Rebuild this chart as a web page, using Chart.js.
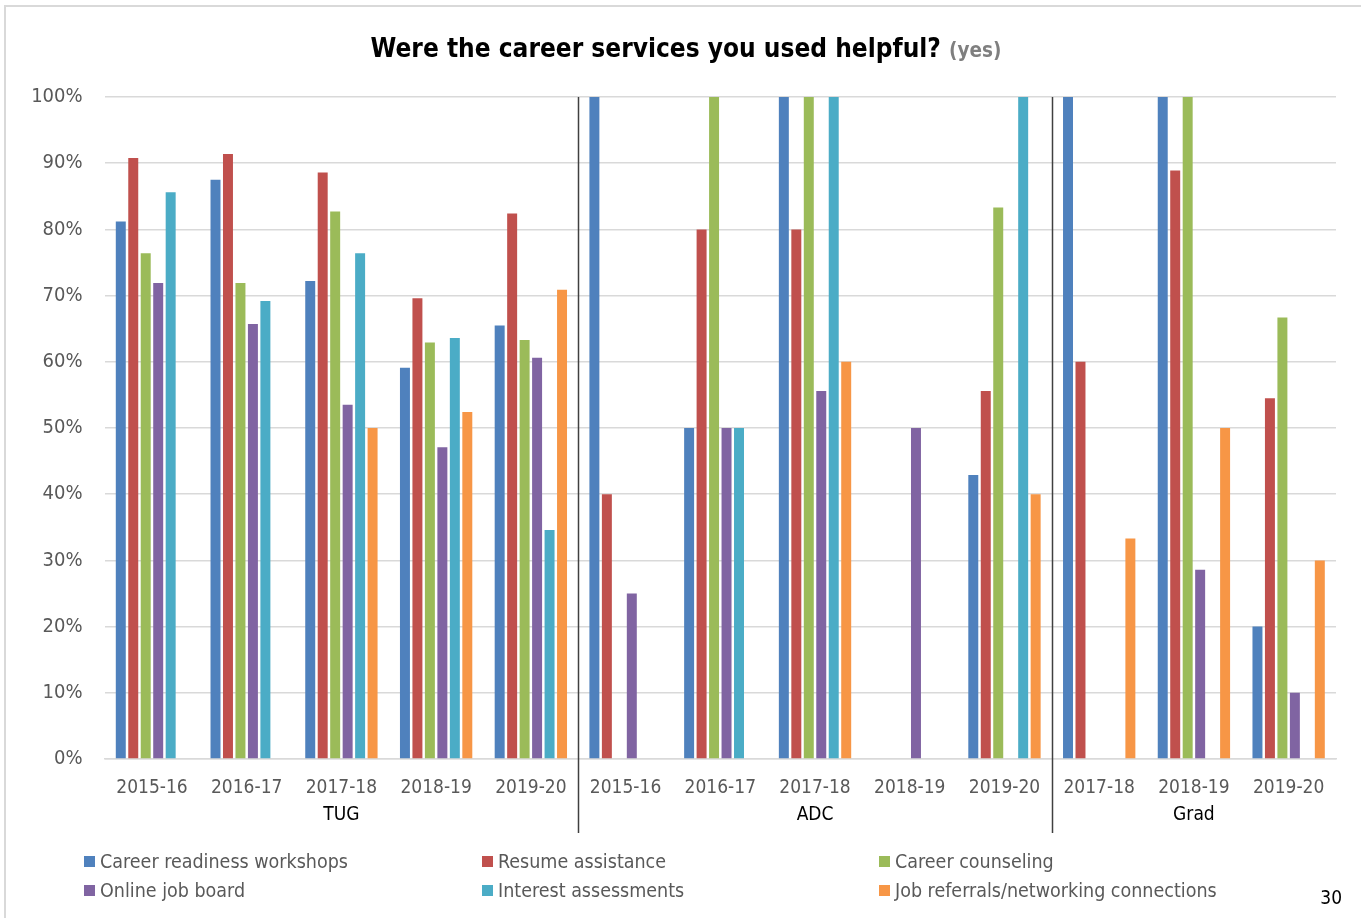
<!DOCTYPE html>
<html><head><meta charset="utf-8">
<script src="https://cdn.jsdelivr.net/npm/chart.js@4.4.0/dist/chart.umd.min.js"></script>
<style>html,body{margin:0;padding:0;background:#fff;overflow:hidden}canvas{display:block}</style>
</head><body>
<canvas id="c" width="1361" height="918"></canvas>
<script>
const categories = ['2015-16','2016-17','2017-18','2018-19','2019-20','2015-16','2016-17','2017-18','2018-19','2019-20','2017-18','2018-19','2019-20'];
const groupNames = ['TUG','ADC','Grad'];
const groupSizes = [5,5,3];
const seriesNames = ['Career readiness workshops','Resume assistance','Career counseling','Online job board','Interest assessments','Job referrals/networking connections'];
const careerReadiness = [81.2, 87.5, 72.2, 59.1, 65.5, 100, 50, 100, null, 42.9, 100, 100, 20];
const resumeAssistance = [90.8, 91.4, 88.6, 69.6, 82.4, 40, 80, 80, null, 55.6, 60, 88.9, 54.5];
const careerCounseling = [76.4, 71.9, 82.7, 62.9, 63.3, null, 100, 100, null, 83.3, null, 100, 66.7];
const onlineJobBoard = [71.9, 65.7, 53.5, 47.1, 60.6, 25, 50, 55.6, 50, null, null, 28.6, 10];
const interestAssessments = [85.6, 69.2, 76.4, 63.6, 34.6, null, 50, 100, null, 100, null, null, null];
const jobReferrals = [null, null, 50, 52.4, 70.9, null, null, 60, null, 40, 33.3, 50, 30];
const yTicks = [0,10,20,30,40,50,60,70,80,90,100];
const titleText = 'Were the career services you used helpful?';
const titleSuffix = '(yes)';
const pageNumber = '30';

const colors = ['#4F81BD','#C0504D','#9BBB59','#8064A2','#4BACC6','#F79646'];
const FONT = "'DejaVu Sans Condensed','Liberation Sans Narrow',sans-serif";
const seriesData = [careerReadiness, resumeAssistance, careerCounseling, onlineJobBoard, interestAssessments, jobReferrals];

const decor = {
  id: 'decor',
  beforeDraw(chart) {
    const ctx = chart.ctx;
    ctx.save();
    ctx.fillStyle = '#fff';
    ctx.fillRect(0,0,chart.width,chart.height);
    ctx.strokeStyle = '#d9d9d9';
    ctx.lineWidth = 2;
    ctx.beginPath();
    ctx.moveTo(5, 918); ctx.lineTo(5, 6); ctx.lineTo(1361, 6);
    ctx.stroke();
    ctx.restore();
  },
  afterDraw(chart) {
    const ctx = chart.ctx;
    const xs = chart.scales.x;
    ctx.save();
    // title
    ctx.textBaseline = 'alphabetic';
    ctx.font = "bold 26px " + FONT;
    const w1 = ctx.measureText(titleText + ' ').width;
    ctx.font = "bold 20.5px " + FONT;
    const w2 = ctx.measureText(titleSuffix).width;
    let x0 = 686 - (w1 + w2) / 2;
    ctx.fillStyle = '#000';
    ctx.font = "bold 26px " + FONT;
    ctx.textAlign = 'left';
    ctx.fillText(titleText + ' ', x0, 57);
    ctx.fillStyle = '#7f7f7f';
    ctx.font = "bold 20.5px " + FONT;
    ctx.fillText(titleSuffix, x0 + w1, 57);
    // separators and group labels
    let start = 0;
    ctx.font = "19px " + FONT;
    ctx.fillStyle = '#000';
    ctx.textAlign = 'center';
    ctx.textBaseline = 'middle';
    const step = xs.getPixelForValue(1) - xs.getPixelForValue(0);
    groupSizes.forEach((n, gi) => {
      const end = start + n - 1;
      const left = xs.getPixelForValue(start) - step / 2;
      const right = xs.getPixelForValue(end) + step / 2;
      ctx.fillText(groupNames[gi], (left + right) / 2, 815);
      if (start + n < categories.length) {
        ctx.strokeStyle = '#404040';
        ctx.lineWidth = 1.5;
        ctx.beginPath();
        ctx.moveTo(Math.round(right) + 0.5, chart.chartArea.top);
        ctx.lineTo(Math.round(right) + 0.5, 833);
        ctx.stroke();
      }
      start += n;
    });
    // legend
    const colX = [84, 482, 879];
    const rowY = [861, 890];
    ctx.textAlign = 'left';
    ctx.textBaseline = 'middle';
    ctx.font = "19.5px " + FONT;
    seriesNames.forEach((name, i) => {
      const cx = colX[i % 3], cy = rowY[Math.floor(i / 3)];
      ctx.fillStyle = colors[i];
      ctx.fillRect(cx, cy - 5, 11, 11);
      ctx.fillStyle = '#595959';
      ctx.fillText(name, cx + 16, cy + 2);
    });
    // page number
    ctx.fillStyle = '#000';
    ctx.textAlign = 'right';
    ctx.font = "19px " + FONT;
    ctx.fillText(pageNumber, 1342, 899);
    ctx.restore();
  }
};

new Chart(document.getElementById('c'), {
  type: 'bar',
  data: {
    labels: categories,
    datasets: seriesNames.map((name, i) => ({
      label: name,
      data: seriesData[i],
      backgroundColor: colors[i],
      borderWidth: 0,
      categoryPercentage: 0.79,
      barPercentage: 0.8
    }))
  },
  options: {
    responsive: false,
    animation: false,
    layout: { padding: { top: 97, right: 25, left: 0, bottom: 0 } },
    plugins: { legend: { display: false }, title: { display: false }, tooltip: { enabled: false } },
    scales: {
      x: {
        grid: { display: false, drawTicks: false },
        border: { display: true, color: '#d9d9d9', width: 1.5 },
        ticks: { color: '#595959', font: { family: FONT, size: 19 }, padding: 18, maxRotation: 0, autoSkip: false },
        afterFit(s) { s.height = 159; }
      },
      y: {
        min: 0, max: 100,
        afterBuildTicks(s) { s.ticks = yTicks.map(v => ({ value: v })); },
        grid: { color: '#d9d9d9', lineWidth: 1.5, drawTicks: false },
        border: { display: false },
        ticks: { color: '#595959', font: { family: FONT, size: 20 }, padding: 22, callback: v => v + '%' },
        afterFit(s) { s.width = 104.6; }
      }
    }
  },
  plugins: [decor]
});
</script>
</body></html>
